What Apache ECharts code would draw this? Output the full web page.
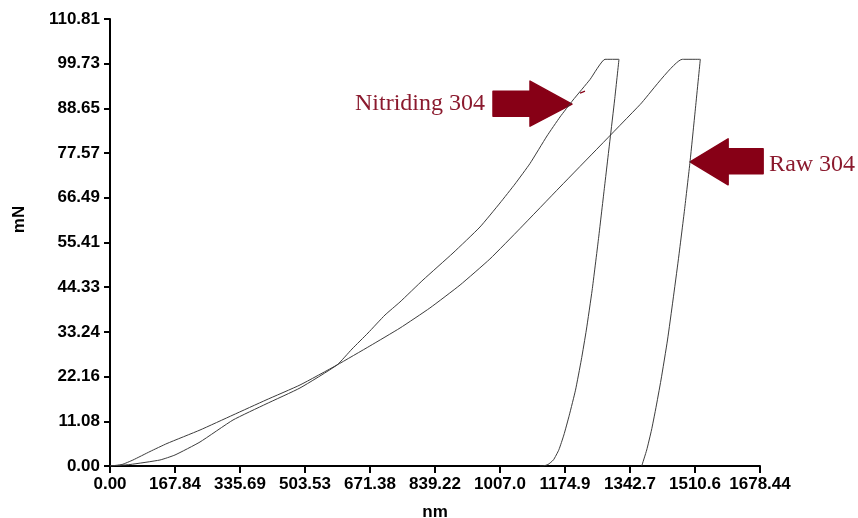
<!DOCTYPE html>
<html>
<head>
<meta charset="utf-8">
<script src="https://cdn.jsdelivr.net/npm/echarts@6/dist/echarts.min.js"></script>
<style>
  html, body { margin: 0; padding: 0; background: #ffffff; }
  #chart { width: 858px; height: 518px; }
</style>
</head>
<body>
<div id="chart"></div>
<script>
// Load–displacement curves from nanoindentation (depth in nm, load in mN):
// loading branch, hold at peak load, then unloading branch.
const nitridingDepth = [0, 51.6, 129.1, 167.8, 232.4, 317.6, 402.8, 490.6, 586.2, 624.9, 666.2, 710.1, 748.8, 808.2, 885.7, 955.4, 1007.1, 1045.8, 1084.5, 1128.4, 1162.0, 1195.6, 1239.5, 1278.2, 1314.3,
  1303.0, 1291.0, 1276.0, 1261.0, 1245.0, 1230.0, 1217.0, 1202.0, 1186.0, 1172.0, 1159.0, 1145.0, 1131.0, 1118.0, 1110.0];
const nitridingLoad  = [0, 0.37, 1.49, 2.73, 5.95, 11.40, 15.37, 19.34, 25.04, 29.00, 32.97, 37.43, 40.66, 46.11, 52.80, 59.25, 65.20, 69.91, 74.99, 81.81, 86.52, 90.72, 95.81, 100.82, 100.82,
  90.73, 80.80, 68.40, 56.00, 43.60, 33.70, 26.30, 18.80, 12.60, 7.70, 4.00, 1.50, 0.37, 0, 0];

const rawDepth = [0, 31.0, 59.4, 103.3, 147.2, 232.4, 317.6, 402.8, 490.6, 586.2, 671.0, 749.0, 826.0, 904.0, 981.0, 1059.0, 1162.0, 1265.0, 1369.0, 1478.0, 1524.3,
  1511.3, 1497.7, 1483.5, 1467.5, 1453.8, 1439.6, 1422.8, 1408.6, 1398.3, 1385.9, 1373.0];
const rawLoad  = [0, 0.37, 1.49, 3.59, 5.58, 8.92, 12.64, 16.36, 20.08, 25.04, 29.75, 34.21, 39.17, 44.87, 51.32, 58.90, 69.16, 79.33, 89.62, 100.82, 100.82,
  88.25, 75.36, 63.46, 51.07, 41.15, 31.24, 21.32, 13.88, 8.92, 3.97, 0];

// Axis tick labels
const xTickLabels = ['0.00', '167.84', '335.69', '503.53', '671.38', '839.22', '1007.0', '1174.9', '1342.7', '1510.6', '1678.44'];
const yTickLabels = ['0.00', '11.08', '22.16', '33.24', '44.33', '55.41', '66.49', '77.57', '88.65', '99.73', '110.81'];
const xMax = 1678.44, xStep = 167.844;
const yMax = 110.81, yStep = 11.081;

// Annotation anchors (depth, load) where each arrow points
const nitridingArrowAt = [1193, 89.7];
const rawArrowAt = [1498, 75.4];

const pairs = (xs, ys) => xs.map((x, i) => [x, ys[i]]);

const chart = echarts.init(document.getElementById('chart'), null, { renderer: 'canvas' });

const axisFont = { fontFamily: '"Liberation Sans", Arial, sans-serif', fontWeight: 'bold', fontSize: 17, color: '#000' };
const curveStyle = { color: '#3c3c3c', width: 1 };

chart.setOption({
  animation: false,
  backgroundColor: '#ffffff',
  grid: { left: 110, right: 98, top: 19, bottom: 52, containLabel: false, outerBoundsMode: 'none' },
  xAxis: {
    type: 'value', min: 0, max: xMax, interval: xStep,
    name: 'nm', nameLocation: 'middle', nameGap: 38,
    nameTextStyle: axisFont,
    axisLine: { show: true, onZero: false, lineStyle: { color: '#000', width: 2 } },
    axisTick: { show: true, length: 7, lineStyle: { color: '#000', width: 2 } },
    axisLabel: Object.assign({ margin: 10, formatter: v => xTickLabels[Math.round(v / xStep)] }, axisFont),
    splitLine: { show: false }
  },
  yAxis: {
    type: 'value', min: 0, max: yMax, interval: yStep,
    name: 'mN', nameLocation: 'middle', nameGap: 82,
    nameTextStyle: Object.assign({ padding: [0, 0, 0, 46] }, axisFont),
    axisLine: { show: true, onZero: false, lineStyle: { color: '#000', width: 2 } },
    axisTick: { show: true, length: 6, lineStyle: { color: '#000', width: 2 } },
    axisLabel: Object.assign({ margin: 10, formatter: v => yTickLabels[Math.round(v / yStep)] }, axisFont),
    splitLine: { show: false }
  },
  series: [
    { name: 'Nitriding 304', type: 'line', data: pairs(nitridingDepth, nitridingLoad), showSymbol: false, smooth: 0.15, lineStyle: curveStyle },
    { name: 'Raw 304', type: 'line', data: pairs(rawDepth, rawLoad), showSymbol: false, smooth: 0.15, lineStyle: curveStyle }
  ]
});

// Block arrows with labels, anchored to the curves
const arrowRed = '#870016';
const labelRed = '#8b1a2e';
const serif = '"Liberation Serif", "Times New Roman", serif';
const nTip = chart.convertToPixel({ gridIndex: 0 }, nitridingArrowAt);
const rTip = chart.convertToPixel({ gridIndex: 0 }, rawArrowAt);

chart.setOption({
  graphic: [
    {
      type: 'polygon', x: nTip[0], y: nTip[1],
      shape: { points: [[0, 0], [-42, -23], [-42, -13], [-79, -13], [-79, 12], [-42, 12], [-42, 22]] },
      style: { fill: arrowRed, lineJoin: 'round', stroke: arrowRed, lineWidth: 1.5 }
    },
    {
      type: 'line', x: nTip[0], y: nTip[1],
      shape: { x1: 8, y1: -11, x2: 13, y2: -13 },
      style: { stroke: arrowRed, lineWidth: 1.2 }
    },
    {
      type: 'text', x: nTip[0] - 87, y: nTip[1],
      style: { text: 'Nitriding 304', font: '24px ' + serif, fill: labelRed, align: 'right', verticalAlign: 'middle' }
    },
    {
      type: 'polygon', x: rTip[0], y: rTip[1],
      shape: { points: [[0, 0], [38, -23], [38, -13], [73, -13], [73, 12], [38, 12], [38, 23]] },
      style: { fill: arrowRed, lineJoin: 'round', stroke: arrowRed, lineWidth: 1.5 }
    },
    {
      type: 'text', x: rTip[0] + 79, y: rTip[1] + 3,
      style: { text: 'Raw 304', font: '24px ' + serif, fill: labelRed, align: 'left', verticalAlign: 'middle' }
    }
  ]
});
</script>
</body>
</html>
